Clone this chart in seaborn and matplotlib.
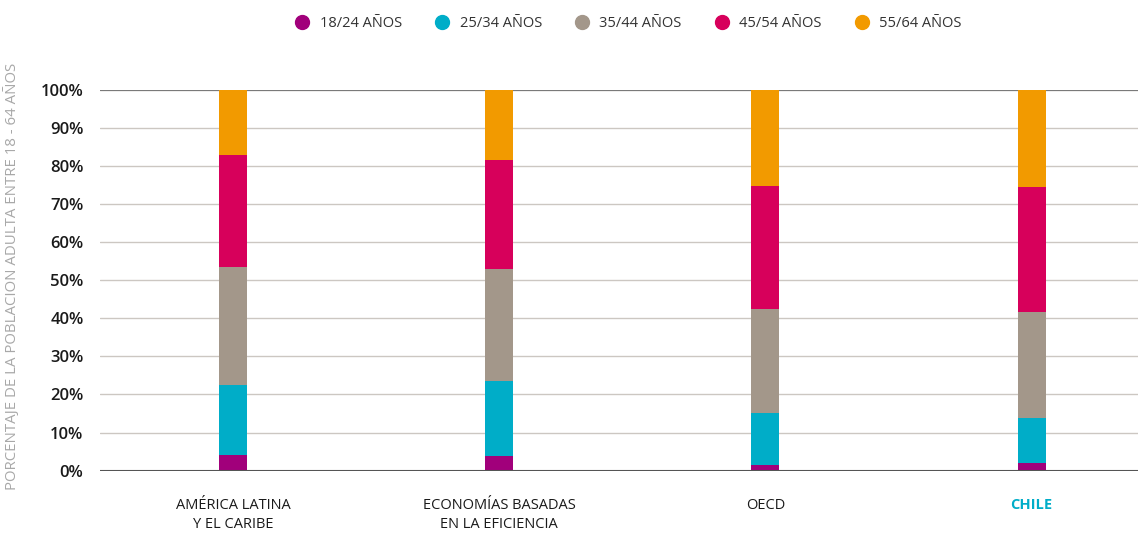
import pandas as pd
import numpy as np
import matplotlib
matplotlib.use("Agg")
import matplotlib.pyplot as plt
from matplotlib.lines import Line2D
import seaborn as sns

regions = ["AMÉRICA LATINA\nY EL CARIBE", "ECONOMÍAS BASADAS\nEN LA EFICIENCIA", "OECD", "CHILE"]
age_groups = ["18/24 AÑOS", "25/34 AÑOS", "35/44 AÑOS", "45/54 AÑOS", "55/64 AÑOS"]
share_18_24 = [4.2, 3.9, 1.6, 2.1]
share_25_34 = [18.4, 19.5, 13.4, 11.8]
share_35_44 = [30.9, 29.6, 27.5, 27.6]
share_45_54 = [29.2, 28.6, 32.3, 33.0]
share_55_64 = [17.3, 18.4, 25.2, 25.5]
colors = ["#A1007B", "#00ADC8", "#A3978A", "#D7005B", "#F29A00"]

sns.set_style("white")
plt.rcParams['font.family'] = ['Open Sans', 'DejaVu Sans']

series = [share_18_24, share_25_34, share_35_44, share_45_54, share_55_64]
cum = np.cumsum(np.array(series), axis=0)

fig, ax = plt.subplots(figsize=(11.38, 5.33), dpi=100)
fig.subplots_adjust(left=0.088, right=1.0, top=0.832, bottom=0.117)

# draw stacked bars back to front using cumulative totals
for i in range(len(age_groups) - 1, -1, -1):
    df = pd.DataFrame({"region": regions, "value": cum[i]})
    sns.barplot(data=df, x="region", y="value", color=colors[i], width=0.105,
                saturation=1, ax=ax, zorder=3, order=regions, linewidth=0)

ax.set_ylim(0, 100)
ax.set_xlim(-0.5, 3.4)
ax.set_yticks(range(0, 101, 10))
ax.set_yticklabels([f"{v}%" for v in range(0, 101, 10)], fontsize=12,
                   color="#1a1a1a", fontweight="semibold")
ax.yaxis.grid(True, color="#CCC7C2", linewidth=1, zorder=0)
ax.axhline(100, color="#7a7a7a", linewidth=1.5, zorder=2)
ax.axhline(0, color="#555555", linewidth=1.5, zorder=4)
for s in ax.spines.values():
    s.set_visible(False)
ax.tick_params(axis="y", length=0, pad=12)
ax.tick_params(axis="x", length=0, pad=20)
ax.set_xlabel("")
ax.set_ylabel("PORCENTAJE DE LA POBLACION ADULTA ENTRE 18 - 64 AÑOS",
              fontsize=10.8, color="#a8a8a8")
ax.yaxis.set_label_coords(-0.077, 0.51)
for lbl in ax.get_xticklabels():
    lbl.set_fontsize(10.5)
    lbl.set_color("#1a1a1a")
    lbl.set_fontweight("medium")
    lbl.set_linespacing(1.3)
    lbl.set_verticalalignment("top")
ax.get_xticklabels()[-1].set_color("#00ADC8")
ax.get_xticklabels()[-1].set_fontweight("bold")

handles = [Line2D([0], [0], marker="o", linestyle="", markersize=10,
                  markerfacecolor=c, markeredgecolor=c) for c in colors]
fig.legend(handles, age_groups, loc="upper center", bbox_to_anchor=(0.549, 0.995),
           ncol=5, frameon=False, fontsize=10.5, handletextpad=0.2,
           columnspacing=1.75, labelcolor="#333333")

fig.savefig("out.png", dpi=100)
